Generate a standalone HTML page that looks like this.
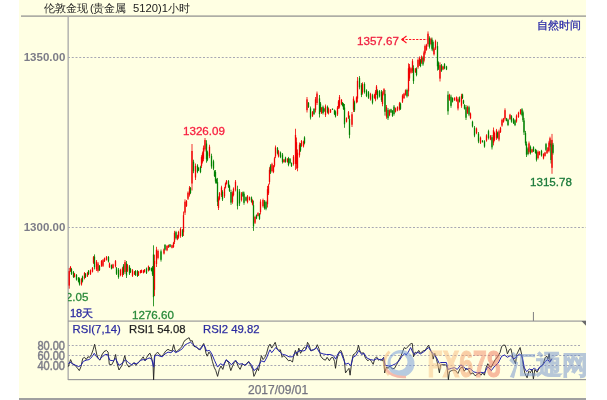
<!DOCTYPE html>
<html><head><meta charset="utf-8">
<style>
html,body{margin:0;padding:0;background:#fff;}
body{width:607px;height:400px;overflow:hidden;position:relative;font-family:"Liberation Sans",sans-serif;}
svg{position:absolute;left:0;top:0;filter:blur(0.3px);}
</style></head><body>
<svg width="607" height="400" viewBox="0 0 607 400" font-family="Liberation Sans, sans-serif">
<rect x="0" y="0" width="607" height="400" fill="#ffffff"/>
<rect x="19" y="0" width="567" height="398" fill="#FFFFE3"/>
<rect x="19" y="398" width="567" height="2" fill="#a0a0a0"/>
<!-- title -->
<g fill="#222" font-size="11">
<text x="44" y="11.8">伦敦金现</text>
<text x="90" y="11.8">(</text>
<text x="93" y="11.8" font-size="11.2">贵金属</text>
<text x="133" y="12" font-size="11" textLength="35" lengthAdjust="spacingAndGlyphs">5120)1</text>
<text x="168" y="11.8" font-size="10.6">小时</text>
</g>
<rect x="21" y="15.5" width="565" height="1.2" fill="#8c8c8c"/>
<text x="537.3" y="29" font-size="11.1" fill="#2a2aa8" stroke="#2a2aa8" stroke-width="0.25">自然时间</text>
<!-- axis -->
<rect x="67.5" y="16" width="1.3" height="364" fill="#a8a8a8"/>
<g stroke="#a8a8b4" stroke-width="1" stroke-dasharray="2,1.75">
<line x1="68" y1="57.5" x2="586" y2="57.5"/>
<line x1="68" y1="227.5" x2="586" y2="227.5"/>
<line x1="68" y1="345.5" x2="580" y2="345.5"/>
<line x1="68" y1="355.5" x2="580" y2="355.5"/>
<line x1="68" y1="365.5" x2="580" y2="365.5"/>
</g>
<g font-size="11.5" font-weight="bold" fill="#7c7c88" text-anchor="end">
<text x="65.3" y="61.2">1350.00</text>
<text x="65.3" y="231.2">1300.00</text>
<g font-size="12.2" font-weight="normal" stroke="#7c7c88" stroke-width="0.45"><text x="65" y="349.7" textLength="27.6" lengthAdjust="spacingAndGlyphs">80.00</text>
<text x="65" y="359.8" textLength="27.6" lengthAdjust="spacingAndGlyphs">60.00</text>
<text x="65" y="369.9" textLength="27.6" lengthAdjust="spacingAndGlyphs">40.00</text></g>
</g>
<!-- separators -->
<rect x="68" y="320.5" width="518" height="1.2" fill="#9a9a9a"/>
<path d="M581.5,321 L586,321 L586,325.8 Z" fill="#6a6a6a"/>
<rect x="68" y="379" width="518" height="1.2" fill="#9a9a9a"/>
<rect x="532.9" y="312" width="1.1" height="9" fill="#8a8a8a"/>
<!-- candles -->
<clipPath id="cp"><rect x="68" y="17" width="518" height="303"/></clipPath>
<g clip-path="url(#cp)">
<rect x="68.80" y="268.00" width="0.8" height="20.70" fill="#F00000"/>
<rect x="68.55" y="271.11" width="1.3" height="14.49" fill="#F00000"/>
<rect x="70.10" y="266.00" width="0.8" height="6.00" fill="#F00000"/>
<rect x="69.85" y="266.90" width="1.3" height="4.20" fill="#F00000"/>
<rect x="71.10" y="268.00" width="0.8" height="7.00" fill="#008000"/>
<rect x="70.85" y="269.05" width="1.3" height="4.90" fill="#008000"/>
<rect x="73.10" y="271.00" width="0.8" height="7.00" fill="#008000"/>
<rect x="72.85" y="272.05" width="1.3" height="4.90" fill="#008000"/>
<rect x="74.10" y="273.00" width="0.8" height="4.50" fill="#F00000"/>
<rect x="73.85" y="273.68" width="1.3" height="3.15" fill="#F00000"/>
<rect x="76.10" y="274.00" width="0.8" height="6.60" fill="#008000"/>
<rect x="75.85" y="274.99" width="1.3" height="4.62" fill="#008000"/>
<rect x="78.10" y="277.00" width="0.8" height="5.50" fill="#008000"/>
<rect x="77.85" y="277.82" width="1.3" height="3.85" fill="#008000"/>
<rect x="79.10" y="277.50" width="0.8" height="8.10" fill="#008000"/>
<rect x="78.85" y="278.72" width="1.3" height="5.67" fill="#008000"/>
<rect x="81.10" y="278.00" width="0.8" height="7.60" fill="#F00000"/>
<rect x="80.85" y="279.14" width="1.3" height="5.32" fill="#F00000"/>
<rect x="82.10" y="275.60" width="0.8" height="6.90" fill="#008000"/>
<rect x="81.85" y="276.63" width="1.3" height="4.83" fill="#008000"/>
<rect x="84.10" y="272.00" width="0.8" height="7.40" fill="#F00000"/>
<rect x="83.85" y="273.11" width="1.3" height="5.18" fill="#F00000"/>
<rect x="85.10" y="273.00" width="0.8" height="5.00" fill="#008000"/>
<rect x="84.85" y="273.75" width="1.3" height="3.50" fill="#008000"/>
<rect x="87.10" y="272.00" width="0.8" height="5.00" fill="#F00000"/>
<rect x="86.85" y="272.75" width="1.3" height="3.50" fill="#F00000"/>
<rect x="88.10" y="270.00" width="0.8" height="5.00" fill="#008000"/>
<rect x="87.85" y="270.75" width="1.3" height="3.50" fill="#008000"/>
<rect x="90.10" y="269.40" width="0.8" height="5.60" fill="#F00000"/>
<rect x="89.85" y="270.24" width="1.3" height="3.92" fill="#F00000"/>
<rect x="92.10" y="267.00" width="0.8" height="5.50" fill="#F00000"/>
<rect x="91.85" y="267.82" width="1.3" height="3.85" fill="#F00000"/>
<rect x="93.10" y="256.00" width="0.8" height="8.00" fill="#F00000"/>
<rect x="92.85" y="257.20" width="1.3" height="5.60" fill="#F00000"/>
<rect x="94.10" y="254.40" width="0.8" height="15.00" fill="#008000"/>
<rect x="93.85" y="256.65" width="1.3" height="10.50" fill="#008000"/>
<rect x="96.10" y="260.00" width="0.8" height="11.00" fill="#F00000"/>
<rect x="95.85" y="261.65" width="1.3" height="7.70" fill="#F00000"/>
<rect x="97.60" y="262.00" width="0.8" height="10.50" fill="#F00000"/>
<rect x="97.35" y="263.57" width="1.3" height="7.35" fill="#F00000"/>
<rect x="99.10" y="265.00" width="0.8" height="6.00" fill="#008000"/>
<rect x="98.85" y="265.90" width="1.3" height="4.20" fill="#008000"/>
<rect x="101.10" y="260.00" width="0.8" height="6.90" fill="#F00000"/>
<rect x="100.85" y="261.03" width="1.3" height="4.83" fill="#F00000"/>
<rect x="102.60" y="259.00" width="0.8" height="8.00" fill="#F00000"/>
<rect x="102.35" y="260.20" width="1.3" height="5.60" fill="#F00000"/>
<rect x="104.10" y="257.50" width="0.8" height="4.50" fill="#F00000"/>
<rect x="103.85" y="258.18" width="1.3" height="3.15" fill="#F00000"/>
<rect x="106.10" y="256.00" width="0.8" height="4.60" fill="#F00000"/>
<rect x="105.85" y="256.69" width="1.3" height="3.22" fill="#F00000"/>
<rect x="108.10" y="256.00" width="0.8" height="6.50" fill="#008000"/>
<rect x="107.85" y="256.98" width="1.3" height="4.55" fill="#008000"/>
<rect x="109.10" y="262.50" width="0.8" height="5.50" fill="#F00000"/>
<rect x="108.85" y="263.32" width="1.3" height="3.85" fill="#F00000"/>
<rect x="111.10" y="264.40" width="0.8" height="5.00" fill="#008000"/>
<rect x="110.85" y="265.15" width="1.3" height="3.50" fill="#008000"/>
<rect x="112.60" y="263.75" width="0.8" height="5.00" fill="#F00000"/>
<rect x="112.35" y="264.50" width="1.3" height="3.50" fill="#F00000"/>
<rect x="115.10" y="260.00" width="0.8" height="7.50" fill="#F00000"/>
<rect x="114.85" y="261.12" width="1.3" height="5.25" fill="#F00000"/>
<rect x="116.10" y="267.00" width="0.8" height="8.00" fill="#008000"/>
<rect x="115.85" y="268.20" width="1.3" height="5.60" fill="#008000"/>
<rect x="118.10" y="268.00" width="0.8" height="10.75" fill="#008000"/>
<rect x="117.85" y="269.61" width="1.3" height="7.52" fill="#008000"/>
<rect x="120.10" y="268.75" width="0.8" height="7.50" fill="#F00000"/>
<rect x="119.85" y="269.88" width="1.3" height="5.25" fill="#F00000"/>
<rect x="122.10" y="266.90" width="0.8" height="10.00" fill="#F00000"/>
<rect x="121.85" y="268.40" width="1.3" height="7.00" fill="#F00000"/>
<rect x="123.10" y="264.00" width="0.8" height="11.00" fill="#008000"/>
<rect x="122.85" y="265.65" width="1.3" height="7.70" fill="#008000"/>
<rect x="124.60" y="260.00" width="0.8" height="14.00" fill="#F00000"/>
<rect x="124.35" y="262.10" width="1.3" height="9.80" fill="#F00000"/>
<rect x="126.10" y="261.00" width="0.8" height="17.00" fill="#008000"/>
<rect x="125.85" y="263.55" width="1.3" height="11.90" fill="#008000"/>
<rect x="127.10" y="264.00" width="0.8" height="8.00" fill="#F00000"/>
<rect x="126.85" y="265.20" width="1.3" height="5.60" fill="#F00000"/>
<rect x="129.10" y="265.00" width="0.8" height="10.00" fill="#008000"/>
<rect x="128.85" y="266.50" width="1.3" height="7.00" fill="#008000"/>
<rect x="130.10" y="268.00" width="0.8" height="5.00" fill="#008000"/>
<rect x="129.85" y="268.75" width="1.3" height="3.50" fill="#008000"/>
<rect x="132.10" y="269.00" width="0.8" height="8.00" fill="#F00000"/>
<rect x="131.85" y="270.20" width="1.3" height="5.60" fill="#F00000"/>
<rect x="134.10" y="271.00" width="0.8" height="4.00" fill="#F00000"/>
<rect x="133.85" y="271.60" width="1.3" height="2.80" fill="#F00000"/>
<rect x="135.10" y="270.00" width="0.8" height="6.00" fill="#008000"/>
<rect x="134.85" y="270.90" width="1.3" height="4.20" fill="#008000"/>
<rect x="137.10" y="270.00" width="0.8" height="7.00" fill="#008000"/>
<rect x="136.85" y="271.05" width="1.3" height="4.90" fill="#008000"/>
<rect x="138.10" y="271.00" width="0.8" height="5.00" fill="#F00000"/>
<rect x="137.85" y="271.75" width="1.3" height="3.50" fill="#F00000"/>
<rect x="140.10" y="270.00" width="0.8" height="3.50" fill="#F00000"/>
<rect x="139.85" y="270.52" width="1.3" height="2.45" fill="#F00000"/>
<rect x="141.10" y="269.50" width="0.8" height="3.50" fill="#F00000"/>
<rect x="140.85" y="270.02" width="1.3" height="2.45" fill="#F00000"/>
<rect x="143.10" y="270.00" width="0.8" height="3.50" fill="#F00000"/>
<rect x="142.85" y="270.52" width="1.3" height="2.45" fill="#F00000"/>
<rect x="144.10" y="269.00" width="0.8" height="3.50" fill="#F00000"/>
<rect x="143.85" y="269.52" width="1.3" height="2.45" fill="#F00000"/>
<rect x="146.10" y="267.50" width="0.8" height="6.50" fill="#008000"/>
<rect x="145.85" y="268.48" width="1.3" height="4.55" fill="#008000"/>
<rect x="148.10" y="265.50" width="0.8" height="6.00" fill="#F00000"/>
<rect x="147.85" y="266.40" width="1.3" height="4.20" fill="#F00000"/>
<rect x="149.10" y="267.00" width="0.8" height="3.50" fill="#008000"/>
<rect x="148.85" y="267.52" width="1.3" height="2.45" fill="#008000"/>
<rect x="151.10" y="267.50" width="0.8" height="4.00" fill="#008000"/>
<rect x="150.85" y="268.10" width="1.3" height="2.80" fill="#008000"/>
<rect x="152.10" y="266.00" width="0.8" height="10.00" fill="#008000"/>
<rect x="151.85" y="267.50" width="1.3" height="7.00" fill="#008000"/>
<rect x="153.10" y="245.30" width="0.8" height="61.00" fill="#008000"/>
<rect x="152.85" y="254.45" width="1.3" height="42.70" fill="#008000"/>
<rect x="154.10" y="254.70" width="0.8" height="41.30" fill="#F00000"/>
<rect x="153.85" y="260.89" width="1.3" height="28.91" fill="#F00000"/>
<rect x="156.10" y="246.80" width="0.8" height="20.20" fill="#F00000"/>
<rect x="155.85" y="249.83" width="1.3" height="14.14" fill="#F00000"/>
<rect x="157.60" y="249.50" width="0.8" height="9.90" fill="#F00000"/>
<rect x="157.35" y="250.98" width="1.3" height="6.93" fill="#F00000"/>
<rect x="160.60" y="249.50" width="0.8" height="12.10" fill="#008000"/>
<rect x="160.35" y="251.31" width="1.3" height="8.47" fill="#008000"/>
<rect x="163.60" y="248.40" width="0.8" height="6.10" fill="#F00000"/>
<rect x="163.35" y="249.31" width="1.3" height="4.27" fill="#F00000"/>
<rect x="164.60" y="244.00" width="0.8" height="6.60" fill="#008000"/>
<rect x="164.35" y="244.99" width="1.3" height="4.62" fill="#008000"/>
<rect x="166.60" y="245.10" width="0.8" height="6.10" fill="#F00000"/>
<rect x="166.35" y="246.01" width="1.3" height="4.27" fill="#F00000"/>
<rect x="168.10" y="244.60" width="0.8" height="3.30" fill="#F00000"/>
<rect x="167.85" y="245.09" width="1.3" height="2.31" fill="#F00000"/>
<rect x="169.60" y="244.00" width="0.8" height="3.30" fill="#008000"/>
<rect x="169.35" y="244.50" width="1.3" height="2.31" fill="#008000"/>
<rect x="171.60" y="244.60" width="0.8" height="3.80" fill="#F00000"/>
<rect x="171.35" y="245.17" width="1.3" height="2.66" fill="#F00000"/>
<rect x="173.10" y="241.80" width="0.8" height="6.10" fill="#F00000"/>
<rect x="172.85" y="242.72" width="1.3" height="4.27" fill="#F00000"/>
<rect x="174.10" y="230.80" width="0.8" height="13.20" fill="#F00000"/>
<rect x="173.85" y="232.78" width="1.3" height="9.24" fill="#F00000"/>
<rect x="175.60" y="230.80" width="0.8" height="8.80" fill="#008000"/>
<rect x="175.35" y="232.12" width="1.3" height="6.16" fill="#008000"/>
<rect x="177.10" y="234.70" width="0.8" height="5.50" fill="#F00000"/>
<rect x="176.85" y="235.52" width="1.3" height="3.85" fill="#F00000"/>
<rect x="178.10" y="230.80" width="0.8" height="7.90" fill="#F00000"/>
<rect x="177.85" y="231.99" width="1.3" height="5.53" fill="#F00000"/>
<rect x="180.10" y="227.30" width="0.8" height="10.50" fill="#F00000"/>
<rect x="179.85" y="228.88" width="1.3" height="7.35" fill="#F00000"/>
<rect x="182.10" y="229.00" width="0.8" height="8.00" fill="#008000"/>
<rect x="181.85" y="230.20" width="1.3" height="5.60" fill="#008000"/>
<rect x="183.10" y="211.50" width="0.8" height="24.50" fill="#F00000"/>
<rect x="182.85" y="215.18" width="1.3" height="17.15" fill="#F00000"/>
<rect x="184.60" y="199.30" width="0.8" height="15.70" fill="#F00000"/>
<rect x="184.35" y="201.66" width="1.3" height="10.99" fill="#F00000"/>
<rect x="186.10" y="200.00" width="0.8" height="7.00" fill="#F00000"/>
<rect x="185.85" y="201.05" width="1.3" height="4.90" fill="#F00000"/>
<rect x="187.60" y="191.40" width="0.8" height="8.60" fill="#F00000"/>
<rect x="187.35" y="192.69" width="1.3" height="6.02" fill="#F00000"/>
<rect x="189.10" y="186.00" width="0.8" height="10.60" fill="#F00000"/>
<rect x="188.85" y="187.59" width="1.3" height="7.42" fill="#F00000"/>
<rect x="190.10" y="187.00" width="0.8" height="7.00" fill="#008000"/>
<rect x="189.85" y="188.05" width="1.3" height="4.90" fill="#008000"/>
<rect x="191.60" y="144.00" width="0.8" height="46.50" fill="#F00000"/>
<rect x="191.35" y="150.97" width="1.3" height="32.55" fill="#F00000"/>
<rect x="193.10" y="159.70" width="0.8" height="13.50" fill="#008000"/>
<rect x="192.85" y="161.72" width="1.3" height="9.45" fill="#008000"/>
<rect x="195.10" y="163.50" width="0.8" height="16.50" fill="#F00000"/>
<rect x="194.85" y="165.97" width="1.3" height="11.55" fill="#F00000"/>
<rect x="197.10" y="164.20" width="0.8" height="9.00" fill="#008000"/>
<rect x="196.85" y="165.55" width="1.3" height="6.30" fill="#008000"/>
<rect x="198.10" y="167.20" width="0.8" height="3.80" fill="#008000"/>
<rect x="197.85" y="167.77" width="1.3" height="2.66" fill="#008000"/>
<rect x="200.10" y="165.70" width="0.8" height="7.50" fill="#008000"/>
<rect x="199.85" y="166.82" width="1.3" height="5.25" fill="#008000"/>
<rect x="201.10" y="155.20" width="0.8" height="12.80" fill="#F00000"/>
<rect x="200.85" y="157.12" width="1.3" height="8.96" fill="#F00000"/>
<rect x="202.10" y="151.50" width="0.8" height="12.00" fill="#F00000"/>
<rect x="201.85" y="153.30" width="1.3" height="8.40" fill="#F00000"/>
<rect x="203.10" y="145.50" width="0.8" height="15.70" fill="#F00000"/>
<rect x="202.85" y="147.85" width="1.3" height="10.99" fill="#F00000"/>
<rect x="204.60" y="138.00" width="0.8" height="13.50" fill="#F00000"/>
<rect x="204.35" y="140.03" width="1.3" height="9.45" fill="#F00000"/>
<rect x="206.10" y="140.20" width="0.8" height="22.50" fill="#008000"/>
<rect x="205.85" y="143.57" width="1.3" height="15.75" fill="#008000"/>
<rect x="207.10" y="150.70" width="0.8" height="10.50" fill="#008000"/>
<rect x="206.85" y="152.27" width="1.3" height="7.35" fill="#008000"/>
<rect x="209.10" y="144.70" width="0.8" height="13.50" fill="#F00000"/>
<rect x="208.85" y="146.72" width="1.3" height="9.45" fill="#F00000"/>
<rect x="211.10" y="153.70" width="0.8" height="15.00" fill="#008000"/>
<rect x="210.85" y="155.95" width="1.3" height="10.50" fill="#008000"/>
<rect x="213.10" y="159.70" width="0.8" height="10.50" fill="#008000"/>
<rect x="212.85" y="161.27" width="1.3" height="7.35" fill="#008000"/>
<rect x="214.10" y="170.20" width="0.8" height="6.80" fill="#008000"/>
<rect x="213.85" y="171.22" width="1.3" height="4.76" fill="#008000"/>
<rect x="215.10" y="170.00" width="0.8" height="13.50" fill="#008000"/>
<rect x="214.85" y="172.03" width="1.3" height="9.45" fill="#008000"/>
<rect x="216.10" y="178.50" width="0.8" height="5.20" fill="#008000"/>
<rect x="215.85" y="179.28" width="1.3" height="3.64" fill="#008000"/>
<rect x="217.10" y="177.90" width="0.8" height="28.10" fill="#008000"/>
<rect x="216.85" y="182.12" width="1.3" height="19.67" fill="#008000"/>
<rect x="218.10" y="196.40" width="0.8" height="13.60" fill="#F00000"/>
<rect x="217.85" y="198.44" width="1.3" height="9.52" fill="#F00000"/>
<rect x="219.10" y="192.00" width="0.8" height="8.40" fill="#F00000"/>
<rect x="218.85" y="193.26" width="1.3" height="5.88" fill="#F00000"/>
<rect x="221.10" y="185.70" width="0.8" height="11.30" fill="#F00000"/>
<rect x="220.85" y="187.39" width="1.3" height="7.91" fill="#F00000"/>
<rect x="222.10" y="190.20" width="0.8" height="10.80" fill="#008000"/>
<rect x="221.85" y="191.82" width="1.3" height="7.56" fill="#008000"/>
<rect x="224.10" y="186.90" width="0.8" height="11.10" fill="#F00000"/>
<rect x="223.85" y="188.56" width="1.3" height="7.77" fill="#F00000"/>
<rect x="225.10" y="182.40" width="0.8" height="6.20" fill="#F00000"/>
<rect x="224.85" y="183.33" width="1.3" height="4.34" fill="#F00000"/>
<rect x="226.10" y="180.00" width="0.8" height="4.60" fill="#F00000"/>
<rect x="225.85" y="180.69" width="1.3" height="3.22" fill="#F00000"/>
<rect x="228.10" y="180.00" width="0.8" height="8.00" fill="#008000"/>
<rect x="227.85" y="181.20" width="1.3" height="5.60" fill="#008000"/>
<rect x="229.10" y="184.60" width="0.8" height="7.40" fill="#008000"/>
<rect x="228.85" y="185.71" width="1.3" height="5.18" fill="#008000"/>
<rect x="230.60" y="189.70" width="0.8" height="15.20" fill="#008000"/>
<rect x="230.35" y="191.98" width="1.3" height="10.64" fill="#008000"/>
<rect x="232.10" y="191.40" width="0.8" height="12.30" fill="#F00000"/>
<rect x="231.85" y="193.25" width="1.3" height="8.61" fill="#F00000"/>
<rect x="233.10" y="187.40" width="0.8" height="9.00" fill="#F00000"/>
<rect x="232.85" y="188.75" width="1.3" height="6.30" fill="#F00000"/>
<rect x="235.10" y="180.00" width="0.8" height="11.40" fill="#F00000"/>
<rect x="234.85" y="181.71" width="1.3" height="7.98" fill="#F00000"/>
<rect x="237.10" y="185.70" width="0.8" height="23.70" fill="#008000"/>
<rect x="236.85" y="189.25" width="1.3" height="16.59" fill="#008000"/>
<rect x="239.10" y="189.00" width="0.8" height="17.00" fill="#008000"/>
<rect x="238.85" y="191.55" width="1.3" height="11.90" fill="#008000"/>
<rect x="241.10" y="192.00" width="0.8" height="9.50" fill="#F00000"/>
<rect x="240.85" y="193.43" width="1.3" height="6.65" fill="#F00000"/>
<rect x="242.60" y="191.40" width="0.8" height="5.60" fill="#008000"/>
<rect x="242.35" y="192.24" width="1.3" height="3.92" fill="#008000"/>
<rect x="243.60" y="191.70" width="0.8" height="13.10" fill="#008000"/>
<rect x="243.35" y="193.66" width="1.3" height="9.17" fill="#008000"/>
<rect x="245.60" y="196.50" width="0.8" height="4.80" fill="#008000"/>
<rect x="245.35" y="197.22" width="1.3" height="3.36" fill="#008000"/>
<rect x="247.10" y="195.00" width="0.8" height="8.40" fill="#F00000"/>
<rect x="246.85" y="196.26" width="1.3" height="5.88" fill="#F00000"/>
<rect x="249.10" y="196.50" width="0.8" height="4.10" fill="#F00000"/>
<rect x="248.85" y="197.12" width="1.3" height="2.87" fill="#F00000"/>
<rect x="251.10" y="196.50" width="0.8" height="6.20" fill="#008000"/>
<rect x="250.85" y="197.43" width="1.3" height="4.34" fill="#008000"/>
<rect x="252.10" y="199.30" width="0.8" height="6.10" fill="#F00000"/>
<rect x="251.85" y="200.22" width="1.3" height="4.27" fill="#F00000"/>
<rect x="253.10" y="200.60" width="0.8" height="30.30" fill="#008000"/>
<rect x="252.85" y="205.14" width="1.3" height="21.21" fill="#008000"/>
<rect x="254.60" y="215.80" width="0.8" height="8.20" fill="#F00000"/>
<rect x="254.35" y="217.03" width="1.3" height="5.74" fill="#F00000"/>
<rect x="256.10" y="214.40" width="0.8" height="4.80" fill="#008000"/>
<rect x="255.85" y="215.12" width="1.3" height="3.36" fill="#008000"/>
<rect x="257.60" y="212.30" width="0.8" height="4.20" fill="#F00000"/>
<rect x="257.35" y="212.93" width="1.3" height="2.94" fill="#F00000"/>
<rect x="259.10" y="213.00" width="0.8" height="6.90" fill="#008000"/>
<rect x="258.85" y="214.03" width="1.3" height="4.83" fill="#008000"/>
<rect x="260.10" y="199.30" width="0.8" height="15.10" fill="#F00000"/>
<rect x="259.85" y="201.56" width="1.3" height="10.57" fill="#F00000"/>
<rect x="262.60" y="198.60" width="0.8" height="8.90" fill="#F00000"/>
<rect x="262.35" y="199.94" width="1.3" height="6.23" fill="#F00000"/>
<rect x="264.10" y="200.00" width="0.8" height="9.60" fill="#008000"/>
<rect x="263.85" y="201.44" width="1.3" height="6.72" fill="#008000"/>
<rect x="265.60" y="200.60" width="0.8" height="9.70" fill="#008000"/>
<rect x="265.35" y="202.06" width="1.3" height="6.79" fill="#008000"/>
<rect x="267.10" y="186.00" width="0.8" height="21.50" fill="#F00000"/>
<rect x="266.85" y="189.22" width="1.3" height="15.05" fill="#F00000"/>
<rect x="268.10" y="183.70" width="0.8" height="11.30" fill="#F00000"/>
<rect x="267.85" y="185.39" width="1.3" height="7.91" fill="#F00000"/>
<rect x="269.10" y="167.20" width="0.8" height="17.30" fill="#F00000"/>
<rect x="268.85" y="169.79" width="1.3" height="12.11" fill="#F00000"/>
<rect x="270.10" y="164.20" width="0.8" height="9.80" fill="#008000"/>
<rect x="269.85" y="165.67" width="1.3" height="6.86" fill="#008000"/>
<rect x="271.60" y="162.70" width="0.8" height="9.80" fill="#F00000"/>
<rect x="271.35" y="164.17" width="1.3" height="6.86" fill="#F00000"/>
<rect x="273.10" y="165.00" width="0.8" height="8.20" fill="#F00000"/>
<rect x="272.85" y="166.23" width="1.3" height="5.74" fill="#F00000"/>
<rect x="274.10" y="156.70" width="0.8" height="10.50" fill="#F00000"/>
<rect x="273.85" y="158.27" width="1.3" height="7.35" fill="#F00000"/>
<rect x="275.10" y="145.50" width="0.8" height="12.70" fill="#F00000"/>
<rect x="274.85" y="147.41" width="1.3" height="8.89" fill="#F00000"/>
<rect x="277.10" y="147.00" width="0.8" height="7.50" fill="#008000"/>
<rect x="276.85" y="148.12" width="1.3" height="5.25" fill="#008000"/>
<rect x="278.10" y="150.00" width="0.8" height="7.50" fill="#F00000"/>
<rect x="277.85" y="151.12" width="1.3" height="5.25" fill="#F00000"/>
<rect x="280.10" y="151.50" width="0.8" height="6.70" fill="#008000"/>
<rect x="279.85" y="152.50" width="1.3" height="4.69" fill="#008000"/>
<rect x="282.10" y="153.00" width="0.8" height="10.50" fill="#008000"/>
<rect x="281.85" y="154.57" width="1.3" height="7.35" fill="#008000"/>
<rect x="283.60" y="159.00" width="0.8" height="3.70" fill="#F00000"/>
<rect x="283.35" y="159.56" width="1.3" height="2.59" fill="#F00000"/>
<rect x="285.10" y="156.70" width="0.8" height="6.00" fill="#008000"/>
<rect x="284.85" y="157.60" width="1.3" height="4.20" fill="#008000"/>
<rect x="287.10" y="158.20" width="0.8" height="4.50" fill="#F00000"/>
<rect x="286.85" y="158.88" width="1.3" height="3.15" fill="#F00000"/>
<rect x="288.10" y="156.90" width="0.8" height="9.40" fill="#008000"/>
<rect x="287.85" y="158.31" width="1.3" height="6.58" fill="#008000"/>
<rect x="289.60" y="158.00" width="0.8" height="5.80" fill="#008000"/>
<rect x="289.35" y="158.87" width="1.3" height="4.06" fill="#008000"/>
<rect x="291.10" y="162.50" width="0.8" height="4.40" fill="#008000"/>
<rect x="290.85" y="163.16" width="1.3" height="3.08" fill="#008000"/>
<rect x="293.10" y="155.00" width="0.8" height="10.60" fill="#F00000"/>
<rect x="292.85" y="156.59" width="1.3" height="7.42" fill="#F00000"/>
<rect x="295.10" y="128.75" width="0.8" height="41.25" fill="#F00000"/>
<rect x="294.85" y="134.94" width="1.3" height="28.88" fill="#F00000"/>
<rect x="296.10" y="137.50" width="0.8" height="31.25" fill="#F00000"/>
<rect x="295.85" y="142.19" width="1.3" height="21.88" fill="#F00000"/>
<rect x="297.10" y="149.40" width="0.8" height="21.85" fill="#F00000"/>
<rect x="296.85" y="152.68" width="1.3" height="15.29" fill="#F00000"/>
<rect x="299.10" y="142.50" width="0.8" height="15.00" fill="#F00000"/>
<rect x="298.85" y="144.75" width="1.3" height="10.50" fill="#F00000"/>
<rect x="300.10" y="143.00" width="0.8" height="8.90" fill="#008000"/>
<rect x="299.85" y="144.34" width="1.3" height="6.23" fill="#008000"/>
<rect x="301.10" y="140.00" width="0.8" height="6.90" fill="#F00000"/>
<rect x="300.85" y="141.03" width="1.3" height="4.83" fill="#F00000"/>
<rect x="303.10" y="140.60" width="0.8" height="6.90" fill="#F00000"/>
<rect x="302.85" y="141.63" width="1.3" height="4.83" fill="#F00000"/>
<rect x="304.10" y="136.25" width="0.8" height="8.15" fill="#008000"/>
<rect x="303.85" y="137.47" width="1.3" height="5.71" fill="#008000"/>
<rect x="306.60" y="97.00" width="0.8" height="15.50" fill="#F00000"/>
<rect x="306.35" y="99.33" width="1.3" height="10.85" fill="#F00000"/>
<rect x="308.10" y="102.00" width="0.8" height="6.00" fill="#008000"/>
<rect x="307.85" y="102.90" width="1.3" height="4.20" fill="#008000"/>
<rect x="310.10" y="106.50" width="0.8" height="13.00" fill="#008000"/>
<rect x="309.85" y="108.45" width="1.3" height="9.10" fill="#008000"/>
<rect x="312.10" y="111.00" width="0.8" height="6.00" fill="#F00000"/>
<rect x="311.85" y="111.90" width="1.3" height="4.20" fill="#F00000"/>
<rect x="313.60" y="108.00" width="0.8" height="7.00" fill="#008000"/>
<rect x="313.35" y="109.05" width="1.3" height="4.90" fill="#008000"/>
<rect x="315.10" y="97.00" width="0.8" height="15.50" fill="#F00000"/>
<rect x="314.85" y="99.33" width="1.3" height="10.85" fill="#F00000"/>
<rect x="316.60" y="91.50" width="0.8" height="13.50" fill="#F00000"/>
<rect x="316.35" y="93.53" width="1.3" height="9.45" fill="#F00000"/>
<rect x="319.10" y="95.00" width="0.8" height="22.50" fill="#008000"/>
<rect x="318.85" y="98.38" width="1.3" height="15.75" fill="#008000"/>
<rect x="320.10" y="102.00" width="0.8" height="10.00" fill="#008000"/>
<rect x="319.85" y="103.50" width="1.3" height="7.00" fill="#008000"/>
<rect x="321.10" y="107.00" width="0.8" height="7.00" fill="#F00000"/>
<rect x="320.85" y="108.05" width="1.3" height="4.90" fill="#F00000"/>
<rect x="322.60" y="105.50" width="0.8" height="9.00" fill="#008000"/>
<rect x="322.35" y="106.85" width="1.3" height="6.30" fill="#008000"/>
<rect x="323.60" y="108.00" width="0.8" height="4.00" fill="#008000"/>
<rect x="323.35" y="108.60" width="1.3" height="2.80" fill="#008000"/>
<rect x="325.10" y="104.50" width="0.8" height="12.50" fill="#F00000"/>
<rect x="324.85" y="106.38" width="1.3" height="8.75" fill="#F00000"/>
<rect x="327.10" y="105.50" width="0.8" height="8.00" fill="#008000"/>
<rect x="326.85" y="106.70" width="1.3" height="5.60" fill="#008000"/>
<rect x="328.10" y="107.50" width="0.8" height="7.00" fill="#F00000"/>
<rect x="327.85" y="108.55" width="1.3" height="4.90" fill="#F00000"/>
<rect x="330.10" y="109.00" width="0.8" height="4.00" fill="#F00000"/>
<rect x="329.85" y="109.60" width="1.3" height="2.80" fill="#F00000"/>
<rect x="332.10" y="108.50" width="0.8" height="1.50" fill="#008000"/>
<rect x="331.85" y="108.72" width="1.3" height="1.05" fill="#008000"/>
<rect x="334.10" y="109.50" width="0.8" height="5.50" fill="#008000"/>
<rect x="333.85" y="110.33" width="1.3" height="3.85" fill="#008000"/>
<rect x="335.10" y="110.50" width="0.8" height="7.00" fill="#008000"/>
<rect x="334.85" y="111.55" width="1.3" height="4.90" fill="#008000"/>
<rect x="337.10" y="106.00" width="0.8" height="10.00" fill="#F00000"/>
<rect x="336.85" y="107.50" width="1.3" height="7.00" fill="#F00000"/>
<rect x="338.10" y="100.00" width="0.8" height="9.00" fill="#F00000"/>
<rect x="337.85" y="101.35" width="1.3" height="6.30" fill="#F00000"/>
<rect x="339.10" y="95.00" width="0.8" height="13.50" fill="#F00000"/>
<rect x="338.85" y="97.03" width="1.3" height="9.45" fill="#F00000"/>
<rect x="341.10" y="99.00" width="0.8" height="6.00" fill="#F00000"/>
<rect x="340.85" y="99.90" width="1.3" height="4.20" fill="#F00000"/>
<rect x="342.10" y="102.00" width="0.8" height="4.50" fill="#008000"/>
<rect x="341.85" y="102.67" width="1.3" height="3.15" fill="#008000"/>
<rect x="343.10" y="103.00" width="0.8" height="7.00" fill="#008000"/>
<rect x="342.85" y="104.05" width="1.3" height="4.90" fill="#008000"/>
<rect x="344.10" y="104.00" width="0.8" height="23.80" fill="#008000"/>
<rect x="343.85" y="107.57" width="1.3" height="16.66" fill="#008000"/>
<rect x="346.10" y="117.30" width="0.8" height="5.20" fill="#F00000"/>
<rect x="345.85" y="118.08" width="1.3" height="3.64" fill="#F00000"/>
<rect x="348.10" y="111.00" width="0.8" height="8.00" fill="#F00000"/>
<rect x="347.85" y="112.20" width="1.3" height="5.60" fill="#F00000"/>
<rect x="349.10" y="115.50" width="0.8" height="22.80" fill="#008000"/>
<rect x="348.85" y="118.92" width="1.3" height="15.96" fill="#008000"/>
<rect x="351.60" y="112.00" width="0.8" height="15.00" fill="#F00000"/>
<rect x="351.35" y="114.25" width="1.3" height="10.50" fill="#F00000"/>
<rect x="353.10" y="96.30" width="0.8" height="15.70" fill="#F00000"/>
<rect x="352.85" y="98.66" width="1.3" height="10.99" fill="#F00000"/>
<rect x="354.10" y="100.60" width="0.8" height="11.40" fill="#008000"/>
<rect x="353.85" y="102.31" width="1.3" height="7.98" fill="#008000"/>
<rect x="356.10" y="96.30" width="0.8" height="7.00" fill="#F00000"/>
<rect x="355.85" y="97.35" width="1.3" height="4.90" fill="#F00000"/>
<rect x="357.10" y="77.00" width="0.8" height="25.40" fill="#F00000"/>
<rect x="356.85" y="80.81" width="1.3" height="17.78" fill="#F00000"/>
<rect x="359.10" y="76.10" width="0.8" height="13.20" fill="#008000"/>
<rect x="358.85" y="78.08" width="1.3" height="9.24" fill="#008000"/>
<rect x="361.10" y="83.10" width="0.8" height="14.00" fill="#008000"/>
<rect x="360.85" y="85.20" width="1.3" height="9.80" fill="#008000"/>
<rect x="362.10" y="82.30" width="0.8" height="12.20" fill="#F00000"/>
<rect x="361.85" y="84.13" width="1.3" height="8.54" fill="#F00000"/>
<rect x="364.10" y="82.30" width="0.8" height="11.30" fill="#008000"/>
<rect x="363.85" y="83.99" width="1.3" height="7.91" fill="#008000"/>
<rect x="366.10" y="89.30" width="0.8" height="7.80" fill="#008000"/>
<rect x="365.85" y="90.47" width="1.3" height="5.46" fill="#008000"/>
<rect x="368.10" y="91.00" width="0.8" height="7.90" fill="#008000"/>
<rect x="367.85" y="92.19" width="1.3" height="5.53" fill="#008000"/>
<rect x="370.10" y="92.80" width="0.8" height="7.80" fill="#F00000"/>
<rect x="369.85" y="93.97" width="1.3" height="5.46" fill="#F00000"/>
<rect x="372.10" y="93.75" width="0.8" height="10.65" fill="#008000"/>
<rect x="371.85" y="95.35" width="1.3" height="7.46" fill="#008000"/>
<rect x="374.10" y="93.75" width="0.8" height="5.00" fill="#F00000"/>
<rect x="373.85" y="94.50" width="1.3" height="3.50" fill="#F00000"/>
<rect x="375.10" y="90.00" width="0.8" height="11.25" fill="#F00000"/>
<rect x="374.85" y="91.69" width="1.3" height="7.88" fill="#F00000"/>
<rect x="376.10" y="85.00" width="0.8" height="10.00" fill="#F00000"/>
<rect x="375.85" y="86.50" width="1.3" height="7.00" fill="#F00000"/>
<rect x="377.10" y="89.40" width="0.8" height="10.00" fill="#008000"/>
<rect x="376.85" y="90.90" width="1.3" height="7.00" fill="#008000"/>
<rect x="379.10" y="90.00" width="0.8" height="7.50" fill="#008000"/>
<rect x="378.85" y="91.12" width="1.3" height="5.25" fill="#008000"/>
<rect x="381.10" y="90.00" width="0.8" height="11.90" fill="#008000"/>
<rect x="380.85" y="91.78" width="1.3" height="8.33" fill="#008000"/>
<rect x="382.10" y="91.25" width="0.8" height="15.00" fill="#F00000"/>
<rect x="381.85" y="93.50" width="1.3" height="10.50" fill="#F00000"/>
<rect x="383.60" y="88.10" width="0.8" height="7.50" fill="#F00000"/>
<rect x="383.35" y="89.22" width="1.3" height="5.25" fill="#F00000"/>
<rect x="384.60" y="90.00" width="0.8" height="25.60" fill="#008000"/>
<rect x="384.35" y="93.84" width="1.3" height="17.92" fill="#008000"/>
<rect x="386.10" y="105.00" width="0.8" height="13.75" fill="#F00000"/>
<rect x="385.85" y="107.06" width="1.3" height="9.62" fill="#F00000"/>
<rect x="387.60" y="108.00" width="0.8" height="12.00" fill="#008000"/>
<rect x="387.35" y="109.80" width="1.3" height="8.40" fill="#008000"/>
<rect x="389.10" y="109.40" width="0.8" height="6.85" fill="#F00000"/>
<rect x="388.85" y="110.43" width="1.3" height="4.79" fill="#F00000"/>
<rect x="390.60" y="108.75" width="0.8" height="4.25" fill="#008000"/>
<rect x="390.35" y="109.39" width="1.3" height="2.97" fill="#008000"/>
<rect x="392.10" y="110.00" width="0.8" height="6.90" fill="#008000"/>
<rect x="391.85" y="111.03" width="1.3" height="4.83" fill="#008000"/>
<rect x="393.60" y="105.00" width="0.8" height="10.60" fill="#008000"/>
<rect x="393.35" y="106.59" width="1.3" height="7.42" fill="#008000"/>
<rect x="395.10" y="107.50" width="0.8" height="5.00" fill="#F00000"/>
<rect x="394.85" y="108.25" width="1.3" height="3.50" fill="#F00000"/>
<rect x="397.10" y="106.25" width="0.8" height="5.00" fill="#F00000"/>
<rect x="396.85" y="107.00" width="1.3" height="3.50" fill="#F00000"/>
<rect x="399.10" y="101.90" width="0.8" height="8.70" fill="#F00000"/>
<rect x="398.85" y="103.20" width="1.3" height="6.09" fill="#F00000"/>
<rect x="400.10" y="102.50" width="0.8" height="7.50" fill="#008000"/>
<rect x="399.85" y="103.62" width="1.3" height="5.25" fill="#008000"/>
<rect x="402.10" y="94.20" width="0.8" height="8.80" fill="#F00000"/>
<rect x="401.85" y="95.52" width="1.3" height="6.16" fill="#F00000"/>
<rect x="403.60" y="92.80" width="0.8" height="6.20" fill="#F00000"/>
<rect x="403.35" y="93.73" width="1.3" height="4.34" fill="#F00000"/>
<rect x="405.10" y="89.40" width="0.8" height="6.20" fill="#F00000"/>
<rect x="404.85" y="90.33" width="1.3" height="4.34" fill="#F00000"/>
<rect x="406.60" y="88.70" width="0.8" height="8.90" fill="#008000"/>
<rect x="406.35" y="90.03" width="1.3" height="6.23" fill="#008000"/>
<rect x="408.10" y="63.30" width="0.8" height="33.00" fill="#F00000"/>
<rect x="407.85" y="68.25" width="1.3" height="23.10" fill="#F00000"/>
<rect x="409.10" y="64.00" width="0.8" height="17.00" fill="#F00000"/>
<rect x="408.85" y="66.55" width="1.3" height="11.90" fill="#F00000"/>
<rect x="410.60" y="67.40" width="0.8" height="6.20" fill="#F00000"/>
<rect x="410.35" y="68.33" width="1.3" height="4.34" fill="#F00000"/>
<rect x="412.10" y="59.10" width="0.8" height="13.80" fill="#F00000"/>
<rect x="411.85" y="61.17" width="1.3" height="9.66" fill="#F00000"/>
<rect x="413.10" y="65.30" width="0.8" height="18.60" fill="#008000"/>
<rect x="412.85" y="68.09" width="1.3" height="13.02" fill="#008000"/>
<rect x="415.10" y="68.00" width="0.8" height="4.90" fill="#F00000"/>
<rect x="414.85" y="68.73" width="1.3" height="3.43" fill="#F00000"/>
<rect x="416.10" y="67.40" width="0.8" height="8.90" fill="#008000"/>
<rect x="415.85" y="68.73" width="1.3" height="6.23" fill="#008000"/>
<rect x="417.60" y="58.40" width="0.8" height="10.40" fill="#F00000"/>
<rect x="417.35" y="59.96" width="1.3" height="7.28" fill="#F00000"/>
<rect x="419.10" y="56.40" width="0.8" height="9.60" fill="#F00000"/>
<rect x="418.85" y="57.84" width="1.3" height="6.72" fill="#F00000"/>
<rect x="420.10" y="59.00" width="0.8" height="8.20" fill="#008000"/>
<rect x="419.85" y="60.23" width="1.3" height="5.74" fill="#008000"/>
<rect x="421.10" y="55.50" width="0.8" height="8.30" fill="#F00000"/>
<rect x="420.85" y="56.74" width="1.3" height="5.81" fill="#F00000"/>
<rect x="422.60" y="56.20" width="0.8" height="9.60" fill="#008000"/>
<rect x="422.35" y="57.64" width="1.3" height="6.72" fill="#008000"/>
<rect x="423.60" y="50.70" width="0.8" height="11.70" fill="#F00000"/>
<rect x="423.35" y="52.46" width="1.3" height="8.19" fill="#F00000"/>
<rect x="424.60" y="44.50" width="0.8" height="10.30" fill="#F00000"/>
<rect x="424.35" y="46.05" width="1.3" height="7.21" fill="#F00000"/>
<rect x="426.10" y="43.80" width="0.8" height="6.90" fill="#F00000"/>
<rect x="425.85" y="44.84" width="1.3" height="4.83" fill="#F00000"/>
<rect x="427.60" y="31.40" width="0.8" height="15.20" fill="#F00000"/>
<rect x="427.35" y="33.68" width="1.3" height="10.64" fill="#F00000"/>
<rect x="429.10" y="36.30" width="0.8" height="12.30" fill="#008000"/>
<rect x="428.85" y="38.14" width="1.3" height="8.61" fill="#008000"/>
<rect x="430.60" y="37.60" width="0.8" height="7.60" fill="#F00000"/>
<rect x="430.35" y="38.74" width="1.3" height="5.32" fill="#F00000"/>
<rect x="431.60" y="37.60" width="0.8" height="13.10" fill="#008000"/>
<rect x="431.35" y="39.57" width="1.3" height="9.17" fill="#008000"/>
<rect x="432.60" y="40.40" width="0.8" height="11.00" fill="#008000"/>
<rect x="432.35" y="42.05" width="1.3" height="7.70" fill="#008000"/>
<rect x="433.60" y="47.30" width="0.8" height="8.20" fill="#F00000"/>
<rect x="433.35" y="48.53" width="1.3" height="5.74" fill="#F00000"/>
<rect x="435.10" y="39.70" width="0.8" height="10.30" fill="#F00000"/>
<rect x="434.85" y="41.25" width="1.3" height="7.21" fill="#F00000"/>
<rect x="437.10" y="41.80" width="0.8" height="28.80" fill="#008000"/>
<rect x="436.85" y="46.12" width="1.3" height="20.16" fill="#008000"/>
<rect x="438.10" y="61.40" width="0.8" height="8.60" fill="#008000"/>
<rect x="437.85" y="62.69" width="1.3" height="6.02" fill="#008000"/>
<rect x="439.60" y="62.30" width="0.8" height="19.20" fill="#F00000"/>
<rect x="439.35" y="65.18" width="1.3" height="13.44" fill="#F00000"/>
<rect x="441.10" y="64.00" width="0.8" height="7.90" fill="#008000"/>
<rect x="440.85" y="65.19" width="1.3" height="5.53" fill="#008000"/>
<rect x="442.60" y="65.80" width="0.8" height="4.30" fill="#F00000"/>
<rect x="442.35" y="66.44" width="1.3" height="3.01" fill="#F00000"/>
<rect x="444.10" y="63.10" width="0.8" height="6.20" fill="#008000"/>
<rect x="443.85" y="64.03" width="1.3" height="4.34" fill="#008000"/>
<rect x="446.10" y="65.80" width="0.8" height="4.30" fill="#008000"/>
<rect x="445.85" y="66.44" width="1.3" height="3.01" fill="#008000"/>
<rect x="447.60" y="91.20" width="0.8" height="23.60" fill="#008000"/>
<rect x="447.35" y="94.74" width="1.3" height="16.52" fill="#008000"/>
<rect x="449.10" y="93.80" width="0.8" height="7.00" fill="#F00000"/>
<rect x="448.85" y="94.85" width="1.3" height="4.90" fill="#F00000"/>
<rect x="450.60" y="94.70" width="0.8" height="13.10" fill="#008000"/>
<rect x="450.35" y="96.67" width="1.3" height="9.17" fill="#008000"/>
<rect x="452.10" y="97.30" width="0.8" height="5.20" fill="#008000"/>
<rect x="451.85" y="98.08" width="1.3" height="3.64" fill="#008000"/>
<rect x="454.10" y="97.30" width="0.8" height="3.50" fill="#F00000"/>
<rect x="453.85" y="97.83" width="1.3" height="2.45" fill="#F00000"/>
<rect x="456.10" y="96.40" width="0.8" height="5.30" fill="#F00000"/>
<rect x="455.85" y="97.20" width="1.3" height="3.71" fill="#F00000"/>
<rect x="457.60" y="97.30" width="0.8" height="13.10" fill="#F00000"/>
<rect x="457.35" y="99.27" width="1.3" height="9.17" fill="#F00000"/>
<rect x="459.10" y="96.40" width="0.8" height="6.10" fill="#008000"/>
<rect x="458.85" y="97.31" width="1.3" height="4.27" fill="#008000"/>
<rect x="461.10" y="93.80" width="0.8" height="14.00" fill="#F00000"/>
<rect x="460.85" y="95.90" width="1.3" height="9.80" fill="#F00000"/>
<rect x="462.10" y="93.70" width="0.8" height="5.30" fill="#008000"/>
<rect x="461.85" y="94.50" width="1.3" height="3.71" fill="#008000"/>
<rect x="463.10" y="99.70" width="0.8" height="4.50" fill="#008000"/>
<rect x="462.85" y="100.38" width="1.3" height="3.15" fill="#008000"/>
<rect x="464.10" y="104.20" width="0.8" height="5.30" fill="#008000"/>
<rect x="463.85" y="105.00" width="1.3" height="3.71" fill="#008000"/>
<rect x="465.60" y="105.00" width="0.8" height="15.00" fill="#008000"/>
<rect x="465.35" y="107.25" width="1.3" height="10.50" fill="#008000"/>
<rect x="467.10" y="105.70" width="0.8" height="8.30" fill="#F00000"/>
<rect x="466.85" y="106.95" width="1.3" height="5.81" fill="#F00000"/>
<rect x="468.60" y="105.70" width="0.8" height="10.50" fill="#008000"/>
<rect x="468.35" y="107.28" width="1.3" height="7.35" fill="#008000"/>
<rect x="470.10" y="112.50" width="0.8" height="6.70" fill="#F00000"/>
<rect x="469.85" y="113.50" width="1.3" height="4.69" fill="#F00000"/>
<rect x="472.10" y="120.70" width="0.8" height="6.80" fill="#008000"/>
<rect x="471.85" y="121.72" width="1.3" height="4.76" fill="#008000"/>
<rect x="474.10" y="126.00" width="0.8" height="11.20" fill="#008000"/>
<rect x="473.85" y="127.68" width="1.3" height="7.84" fill="#008000"/>
<rect x="476.10" y="127.50" width="0.8" height="6.70" fill="#F00000"/>
<rect x="475.85" y="128.50" width="1.3" height="4.69" fill="#F00000"/>
<rect x="478.10" y="132.00" width="0.8" height="11.20" fill="#008000"/>
<rect x="477.85" y="133.68" width="1.3" height="7.84" fill="#008000"/>
<rect x="480.10" y="136.50" width="0.8" height="7.50" fill="#F00000"/>
<rect x="479.85" y="137.62" width="1.3" height="5.25" fill="#F00000"/>
<rect x="482.10" y="140.20" width="0.8" height="2.30" fill="#008000"/>
<rect x="481.85" y="140.54" width="1.3" height="1.61" fill="#008000"/>
<rect x="484.10" y="140.20" width="0.8" height="7.50" fill="#008000"/>
<rect x="483.85" y="141.32" width="1.3" height="5.25" fill="#008000"/>
<rect x="486.10" y="134.20" width="0.8" height="7.50" fill="#F00000"/>
<rect x="485.85" y="135.32" width="1.3" height="5.25" fill="#F00000"/>
<rect x="488.10" y="129.70" width="0.8" height="9.80" fill="#008000"/>
<rect x="487.85" y="131.17" width="1.3" height="6.86" fill="#008000"/>
<rect x="490.10" y="135.00" width="0.8" height="5.20" fill="#F00000"/>
<rect x="489.85" y="135.78" width="1.3" height="3.64" fill="#F00000"/>
<rect x="491.60" y="135.00" width="0.8" height="14.50" fill="#008000"/>
<rect x="491.35" y="137.18" width="1.3" height="10.15" fill="#008000"/>
<rect x="493.10" y="127.50" width="0.8" height="17.90" fill="#F00000"/>
<rect x="492.85" y="130.19" width="1.3" height="12.53" fill="#F00000"/>
<rect x="494.10" y="131.60" width="0.8" height="9.70" fill="#F00000"/>
<rect x="493.85" y="133.06" width="1.3" height="6.79" fill="#F00000"/>
<rect x="496.10" y="128.90" width="0.8" height="11.00" fill="#F00000"/>
<rect x="495.85" y="130.55" width="1.3" height="7.70" fill="#F00000"/>
<rect x="497.10" y="131.60" width="0.8" height="6.90" fill="#008000"/>
<rect x="496.85" y="132.63" width="1.3" height="4.83" fill="#008000"/>
<rect x="498.60" y="129.60" width="0.8" height="11.70" fill="#F00000"/>
<rect x="498.35" y="131.35" width="1.3" height="8.19" fill="#F00000"/>
<rect x="500.10" y="126.80" width="0.8" height="6.20" fill="#F00000"/>
<rect x="499.85" y="127.73" width="1.3" height="4.34" fill="#F00000"/>
<rect x="501.60" y="118.60" width="0.8" height="8.20" fill="#F00000"/>
<rect x="501.35" y="119.83" width="1.3" height="5.74" fill="#F00000"/>
<rect x="503.10" y="117.90" width="0.8" height="4.80" fill="#F00000"/>
<rect x="502.85" y="118.62" width="1.3" height="3.36" fill="#F00000"/>
<rect x="504.60" y="108.30" width="0.8" height="12.30" fill="#F00000"/>
<rect x="504.35" y="110.14" width="1.3" height="8.61" fill="#F00000"/>
<rect x="506.10" y="117.90" width="0.8" height="3.40" fill="#008000"/>
<rect x="505.85" y="118.41" width="1.3" height="2.38" fill="#008000"/>
<rect x="507.60" y="118.60" width="0.8" height="7.50" fill="#008000"/>
<rect x="507.35" y="119.72" width="1.3" height="5.25" fill="#008000"/>
<rect x="509.60" y="113.80" width="0.8" height="6.20" fill="#F00000"/>
<rect x="509.35" y="114.73" width="1.3" height="4.34" fill="#F00000"/>
<rect x="511.10" y="115.10" width="0.8" height="7.60" fill="#008000"/>
<rect x="510.85" y="116.24" width="1.3" height="5.32" fill="#008000"/>
<rect x="513.10" y="117.90" width="0.8" height="6.10" fill="#008000"/>
<rect x="512.85" y="118.81" width="1.3" height="4.27" fill="#008000"/>
<rect x="514.60" y="119.30" width="0.8" height="6.80" fill="#008000"/>
<rect x="514.35" y="120.32" width="1.3" height="4.76" fill="#008000"/>
<rect x="516.10" y="114.40" width="0.8" height="8.30" fill="#F00000"/>
<rect x="515.85" y="115.65" width="1.3" height="5.81" fill="#F00000"/>
<rect x="518.10" y="111.70" width="0.8" height="6.20" fill="#F00000"/>
<rect x="517.85" y="112.63" width="1.3" height="4.34" fill="#F00000"/>
<rect x="520.10" y="109.00" width="0.8" height="5.60" fill="#F00000"/>
<rect x="519.85" y="109.84" width="1.3" height="3.92" fill="#F00000"/>
<rect x="521.60" y="108.10" width="0.8" height="8.20" fill="#008000"/>
<rect x="521.35" y="109.33" width="1.3" height="5.74" fill="#008000"/>
<rect x="522.60" y="110.60" width="0.8" height="11.40" fill="#008000"/>
<rect x="522.35" y="112.31" width="1.3" height="7.98" fill="#008000"/>
<rect x="523.60" y="117.90" width="0.8" height="17.10" fill="#008000"/>
<rect x="523.35" y="120.47" width="1.3" height="11.97" fill="#008000"/>
<rect x="525.10" y="130.90" width="0.8" height="14.60" fill="#008000"/>
<rect x="524.85" y="133.09" width="1.3" height="10.22" fill="#008000"/>
<rect x="526.10" y="141.50" width="0.8" height="15.50" fill="#008000"/>
<rect x="525.85" y="143.82" width="1.3" height="10.85" fill="#008000"/>
<rect x="527.60" y="147.20" width="0.8" height="8.10" fill="#008000"/>
<rect x="527.35" y="148.41" width="1.3" height="5.67" fill="#008000"/>
<rect x="528.60" y="141.50" width="0.8" height="12.20" fill="#F00000"/>
<rect x="528.35" y="143.33" width="1.3" height="8.54" fill="#F00000"/>
<rect x="530.10" y="145.50" width="0.8" height="9.00" fill="#008000"/>
<rect x="529.85" y="146.85" width="1.3" height="6.30" fill="#008000"/>
<rect x="531.60" y="148.80" width="0.8" height="4.00" fill="#F00000"/>
<rect x="531.35" y="149.40" width="1.3" height="2.80" fill="#F00000"/>
<rect x="533.10" y="146.30" width="0.8" height="5.70" fill="#008000"/>
<rect x="532.85" y="147.16" width="1.3" height="3.99" fill="#008000"/>
<rect x="535.10" y="148.80" width="0.8" height="4.90" fill="#008000"/>
<rect x="534.85" y="149.53" width="1.3" height="3.43" fill="#008000"/>
<rect x="536.10" y="149.80" width="0.8" height="11.70" fill="#008000"/>
<rect x="535.85" y="151.56" width="1.3" height="8.19" fill="#008000"/>
<rect x="537.60" y="150.40" width="0.8" height="9.00" fill="#F00000"/>
<rect x="537.35" y="151.75" width="1.3" height="6.30" fill="#F00000"/>
<rect x="539.10" y="151.10" width="0.8" height="4.20" fill="#F00000"/>
<rect x="538.85" y="151.73" width="1.3" height="2.94" fill="#F00000"/>
<rect x="541.10" y="149.80" width="0.8" height="6.80" fill="#008000"/>
<rect x="540.85" y="150.82" width="1.3" height="4.76" fill="#008000"/>
<rect x="543.10" y="153.20" width="0.8" height="6.20" fill="#F00000"/>
<rect x="542.85" y="154.13" width="1.3" height="4.34" fill="#F00000"/>
<rect x="544.60" y="151.80" width="0.8" height="4.80" fill="#F00000"/>
<rect x="544.35" y="152.52" width="1.3" height="3.36" fill="#F00000"/>
<rect x="545.60" y="142.90" width="0.8" height="8.20" fill="#008000"/>
<rect x="545.35" y="144.13" width="1.3" height="5.74" fill="#008000"/>
<rect x="546.60" y="149.80" width="0.8" height="4.10" fill="#F00000"/>
<rect x="546.35" y="150.42" width="1.3" height="2.87" fill="#F00000"/>
<rect x="547.60" y="147.00" width="0.8" height="4.80" fill="#F00000"/>
<rect x="547.35" y="147.72" width="1.3" height="3.36" fill="#F00000"/>
<rect x="548.60" y="140.80" width="0.8" height="11.70" fill="#F00000"/>
<rect x="548.35" y="142.56" width="1.3" height="8.19" fill="#F00000"/>
<rect x="549.60" y="136.70" width="0.8" height="10.30" fill="#F00000"/>
<rect x="549.35" y="138.25" width="1.3" height="7.21" fill="#F00000"/>
<rect x="550.60" y="140.10" width="0.8" height="23.40" fill="#008000"/>
<rect x="550.35" y="143.61" width="1.3" height="16.38" fill="#008000"/>
<rect x="551.60" y="133.90" width="0.8" height="39.90" fill="#F00000"/>
<rect x="551.35" y="139.89" width="1.3" height="27.93" fill="#F00000"/>
<rect x="552.60" y="142.90" width="0.8" height="11.70" fill="#008000"/>
<rect x="552.35" y="144.66" width="1.3" height="8.19" fill="#008000"/>
</g>
<!-- labels -->
<g font-size="11.6" stroke-width="0.3">
<text x="357" y="45" fill="#f02040" stroke="#f02040">1357.67</text>
<path d="M405.5,39.5 L427.5,39.5" stroke="#ff1020" stroke-width="1.2" stroke-dasharray="2.2,1.35"/>
<path d="M406.5,36 L402,39.5 L406.5,43" stroke="#ff1020" stroke-width="1.1" fill="none"/>
<circle cx="402.8" cy="39.5" r="1.3" fill="#ff1020"/>
<text x="183" y="134.5" fill="#f82040" stroke="#f82040">1326.09</text>
<text x="530" y="186.3" fill="#1a7a3a" stroke="#1a7a3a">1315.78</text>
<text x="132" y="319" fill="#2a8a3a" stroke="#2a8a3a">1276.60</text>
<g clip-path="url(#cp)"><text x="46.5" y="300.8" fill="#2a8a3a" stroke="#2a8a3a">1282.05</text></g>
<text x="70" y="316.5" font-size="11" fill="#2a2aa0" stroke="#2a2aa0" stroke-width="0.3">18天</text>
</g>
<g font-size="11.3" stroke-width="0.25">
<text x="72.5" y="333.3" fill="#2c2ca0" stroke="#2c2ca0">RSI(7,14)</text>
<text x="129" y="333.3" fill="#222" stroke="#222">RSI1 54.08</text>
<text x="203" y="333.3" fill="#2c2ca0" stroke="#2c2ca0">RSI2 49.82</text>
</g>
<polyline points="68.3,366.6 70.6,359.6 72.3,363.7 75.2,365.4 77.5,368.3 79.3,370.6 81,366.6 82.7,358.5 84.5,357.3 86.2,359.6 87.9,356.8 89.6,357.3 91.4,354.5 93.1,349.8 94.6,344.3 95.8,349.8 96.9,355 98.3,358.5 100,360.2 101.8,355 104,351.6 106.4,350.4 108.1,352.1 109.3,364.3 111.6,364.8 113.9,360.8 115.6,354.5 116.7,362 119,370 122,365.4 124.8,355.6 126.6,363.7 128.9,367.1 132.3,364.3 134,362.5 135.7,365.4 137.5,363.7 139.8,360.8 141.5,359.1 143.2,356.8 145,360.8 146.7,357.3 149,353.9 150.1,353.3 151.9,359.1 153,363.7 153.6,379.8 154.8,355 156.5,353.3 157.6,352.1 159.4,354.5 161.7,356.2 163.4,354.5 165.7,351 168,349.3 169.8,350.4 172.1,351 173.6,344.7 175,349.8 176.1,352.1 177.8,350.4 180.1,348.7 182.4,345.8 183.6,342.3 185.3,340 187.1,338.9 189.1,337.7 190.5,341.2 192.2,340.6 194,346.4 196.3,347 199.2,349.8 201.5,347 203.7,343.5 204.9,347.5 206,353.3 207.2,356.2 208.9,352.1 210.7,354.5 212.4,361.4 214.1,367.1 215.8,370.6 217.6,376.4 219.3,369.4 221,366 222.8,369.4 224.5,363.7 226.2,360.2 228.5,362.5 230.8,370.6 232.6,366 234.3,362.5 236,360.8 238.3,366.6 240.1,369.4 242.4,363.7 244.7,365.4 246.4,363.7 248.7,361.4 250.4,364.8 252.7,369.4 253.9,376.4 255.1,374.1 257.4,368.3 258.5,370.6 260.2,361.4 261.4,355.6 263.1,359.6 264.9,357.3 266.6,353.3 268.3,347 270,344.1 271.7,348.1 273.5,345.2 275.2,342.3 276.9,348.1 278.7,350.4 280.4,349.8 282.1,357.3 283.8,355.6 286.1,357.9 288.5,360.8 290.2,360.2 292.5,362 293.6,356.2 295.4,350.4 297.1,355.6 298.8,348.1 300.6,353.3 302.3,349.8 304.6,347 306.3,348.7 307.5,342.3 309.2,345.2 310.9,351 313.3,349.8 315.6,348.7 317.3,344.7 319,348.7 320.7,356.2 323.1,359.1 325.4,360.2 327.1,357.3 329.4,360.8 331.1,357.9 332.9,357.3 334.6,361.4 335.5,368.3 336.9,359.1 339.2,351.6 340.9,350.4 342.6,354.5 344.3,360.2 345.5,372.9 347.2,370.6 349,368.3 350.1,375.2 351.3,365.4 353,355 355.3,353.3 357,351 358.5,345.2 359.9,351 361.6,353.3 363.4,352.7 365.7,358.5 368,360.8 369.7,359.1 371.4,361.4 373.2,364.3 374.9,358.5 376.6,356.8 378.4,360.2 380.1,359.1 382.4,360.8 383.6,357.3 384.7,372.9 386.4,367.1 388.2,368.3 389.9,366 392.2,368.9 394.5,368.3 396.8,364.3 399.1,359.6 400.9,356.2 402.6,351.6 404.3,347.5 406,348.7 407.7,347 409.5,344.7 411.2,343.5 412.3,343.5 413.5,356.8 415.2,352.1 417,353.3 418.7,350.4 420.4,353.3 422.7,351 425,350.4 427.3,347 428.5,345.2 430.2,349.3 432,353.3 433.1,359.1 434.8,353.3 436.6,359.6 438.3,367.1 439.4,372.9 440.6,364.8 445.2,364.8 446.9,366 448.4,379.8 449.3,371.8 451.6,370.6 453.9,370 455.6,370.6 457.9,373.5 460.2,368.3 462.5,367.1 464.2,371.2 466.6,368.3 468.9,370.6 470.6,374.1 472.9,372.9 475.2,375.8 477.5,374.1 479.2,372.9 480.9,375.2 482.7,372.9 484.4,375.2 486.1,367.7 487.8,363.7 489.6,366.6 491.3,367.1 493,363.7 495.3,359.6 497.6,356.8 500,352.7 501.7,346.4 503.4,345.2 505.1,345.2 506.3,348.7 507.4,353.9 509.2,349.8 510.9,348.7 513.2,358.5 515.5,363.7 516.7,354.5 518.4,351 520.1,347.5 521.6,354.1 523.3,365.7 524.9,373.4 527.1,377.8 528.8,371.2 530.4,372.8 532.1,369 533.4,378.9 534.8,369.5 537,372.3 538.7,369 540.9,366.2 543.1,364 545.3,357.4 546.9,356.3 548,359.1 549.1,353.6 550.2,361.3 551.9,358.5" fill="none" stroke="#202020" stroke-width="0.9"/>
<polyline points="68.3,363.7 70,362 72.3,363.7 75.8,365.4 78.7,366.6 81,365.4 83.3,361.4 86.2,360.2 89.1,359.6 92,356.8 94.3,353.3 96.6,356.8 99.4,359.6 102.3,356.8 105.2,354.5 107.5,354.5 109.8,360.2 113.3,360.8 115.6,358.5 119,365.4 122.5,363.1 125.4,359.6 128.3,362.5 131.7,364.8 134,363.1 136.3,363.7 138.6,362.5 140.9,360.2 143.2,359.6 145.5,360.2 147.8,358.5 150.1,357.9 151.9,360.2 153.6,367.1 154.5,356.2 157.1,355 160,356.2 162.3,356.8 165.1,353.9 168,352.1 170.9,352.7 173.8,350.4 175.5,352.7 179,351 182.4,348.7 184.7,345.2 187.6,343.5 190.5,342.3 192.8,344.1 195.1,346.4 198.6,348.7 200.3,349.8 203.2,345.2 204.3,345.2 206.6,351 209.5,350.4 211.8,353.9 214.7,360.8 217.6,367.1 220.5,363.7 223.3,365.4 226.2,359.6 229.1,362 231.4,364.8 235.4,360.2 238.9,364.3 241.8,363.7 245.3,365.4 248.7,362 251.6,364.8 253.9,370.6 256.8,368.3 259.1,364.8 261.4,360.8 264.3,362 266.6,357.9 268.9,352.1 270,349.8 271.7,352.7 274,349.8 275.8,347.5 278.1,350.4 281,352.7 282.7,354.5 285.6,355 289,356.8 292.5,356.8 294.8,353.3 297.7,352.1 300,350.4 302.9,351 305.2,350.4 307.5,345.2 310.4,350.4 313.8,349.8 316.7,347.5 319.6,352.7 323.1,353.9 326.5,354.5 330,354.5 333.4,355.6 335.7,359.1 338,353.6 340.9,352.1 343.2,358.5 345.5,364.3 348.4,363.1 350.7,366 353,357.3 355.9,355.6 358.8,350.4 361.6,354.5 364,353.3 366.8,357.9 370.3,359.6 373.8,360.2 377.2,358.5 380.7,360.2 383.6,357.9 385.3,365.4 388.7,366 392.2,365.4 395.7,363.7 399.1,360.8 402,356.2 404.9,353.3 406,355 408.3,352.1 410.6,347.5 412.9,352.7 415.2,354.5 417.5,352.1 420.4,353.9 423.3,352.1 426.2,349.8 428.5,347.5 431.4,351.6 434.3,355 436.6,357.9 439.4,363.7 440.6,362.5 446.4,362.5 448.1,369.4 451.6,368.3 454.4,367.7 457.3,369.4 460.8,364.8 463.7,367.1 466.6,369.4 470,368.3 473.5,371.8 477.5,372.9 480.9,372.3 484.4,372.9 487.8,366.6 491.3,370.6 494.8,366 498.2,363.1 501.7,356.2 504.6,355 507.4,357.3 510.3,355.6 513.8,359.1 516.1,356.8 519.6,353.9 522.2,356.9 524.4,367.9 526.6,371.7 529.3,369 532.1,370.1 534.3,367.9 537,370.6 539.8,366.8 542.5,365.7 545.3,361.3 548,359.6 549.7,362.4 551.9,359.1" fill="none" stroke="#2424b0" stroke-width="1"/>
<!-- watermark -->
<g opacity="0.5">
<path fill-rule="evenodd" fill="#7199df" d="M414.5,363.5 A13.5,13.5 0 1,1 387.5,363.5 A13.5,13.5 0 1,1 414.5,363.5 Z M407.5,362 A8.5,8.5 0 1,0 390.5,362 A8.5,8.5 0 1,0 407.5,362 Z"/>
<path d="M389.5,351.5 A16.5,16.5 0 0,0 389,375" fill="none" stroke="#f9b977" stroke-width="3"/>
<path d="M386,369 Q392,378 406,377" fill="none" stroke="#ed7975" stroke-width="2.5"/>
<g font-weight="bold" font-size="36" stroke-width="1.2">
<text x="427.5" y="377" textLength="73" lengthAdjust="spacingAndGlyphs"><tspan fill="#f9c587" stroke="#f9c587">F</tspan><tspan fill="#f9b97d" stroke="#f9b97d">X</tspan><tspan fill="#f59f69" stroke="#f59f69">6</tspan><tspan fill="#f58d6b" stroke="#f58d6b">7</tspan><tspan fill="#f1775b" stroke="#f1775b">8</tspan></text>
</g>
<text x="509.5" y="373.5" font-size="26" font-weight="bold" fill="#7191cf" stroke="#7191cf" stroke-width="0.7">汇通网</text>
</g>
<text x="248" y="393.5" font-size="12" fill="#747480" stroke="#747480" stroke-width="0.25">2017/09/01</text>
</svg>
</body></html>
